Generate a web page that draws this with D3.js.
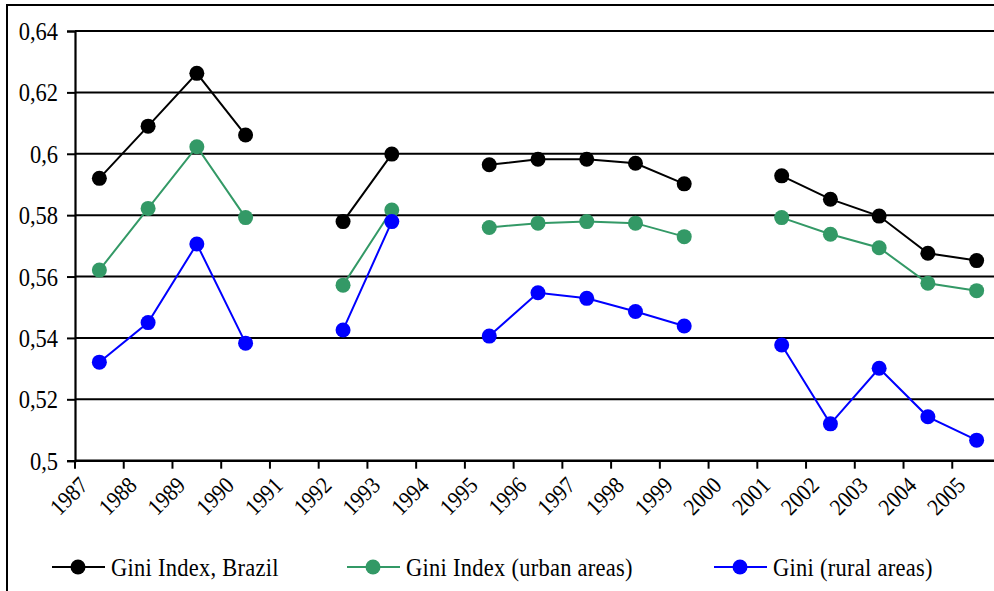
<!DOCTYPE html>
<html>
<head>
<meta charset="utf-8">
<script src="https://cdn.jsdelivr.net/npm/d3@7"></script>
<style>
  html, body { margin: 0; padding: 0; background: #fff; }
  svg { display: block; }
  text { font-family: "Liberation Serif", "Times New Roman", serif; fill: #000; }
</style>
</head>
<body>
<svg id="chart" width="994" height="591"></svg>
<script>
// Gini coefficients by year; null where no survey was taken
const years = ["1987","1988","1989","1990","1991","1992","1993","1994","1995","1996",
               "1997","1998","1999","2000","2001","2002","2003","2004","2005"];
const giniBrazil = [0.592,0.609,0.6262,0.6061,null,0.5779,0.5999,null,0.5964,0.5982,
                    0.5982,0.5969,0.5902,null,0.5928,0.5852,0.5797,0.5676,0.5652];
const giniUrban  = [0.5621,0.5822,0.6023,0.5792,null,0.5572,0.5817,null,0.5760,0.5774,
                    0.5779,0.5774,0.5730,null,0.5792,0.5738,0.5694,0.5578,0.5554];
const giniRural  = [0.5321,0.545,0.5706,0.5383,null,0.5426,0.5779,null,0.5406,0.5547,
                    0.5529,0.5486,0.5439,null,0.5377,0.5120,0.5301,0.5143,0.5067];
const yTicks = [0.5,0.52,0.54,0.56,0.58,0.6,0.62,0.64];
const yTickLabels = ["0,5","0,52","0,54","0,56","0,58","0,6","0,62","0,64"];
const seriesNames = ["Gini Index, Brazil","Gini Index (urban areas)","Gini (rural areas)"];
const seriesColors = ["#000000","#339966","#0000ff"];

const series = [giniBrazil, giniUrban, giniRural].map((vals, i) => ({
  name: seriesNames[i], color: seriesColors[i], values: vals
}));

const svg = d3.select("#chart");
const plot = {left: 75, right: 1001, top: 31, bottom: 460.7};
const fontSize = 25;
const condense = 0.9; // narrow serif face

// Outer frame
svg.append("rect")
  .attr("x", 7).attr("y", 5).attr("width", 1000).attr("height", 600)
  .attr("fill", "none").attr("stroke", "#000").attr("stroke-width", 2);

const x = d3.scaleBand().domain(years).range([plot.left, plot.right]).padding(0);
const y = d3.scaleLinear().domain([0.5, 0.64]).range([plot.bottom, plot.top]);

// Horizontal gridlines
svg.append("g").selectAll("line").data(yTicks.slice(1)).join("line")
  .attr("x1", plot.left).attr("x2", plot.right)
  .attr("y1", d => y(d)).attr("y2", d => y(d))
  .attr("stroke", "#000").attr("stroke-width", 2);

// Y axis
const yAxis = d3.axisLeft(y).tickValues(yTicks).tickSize(8).tickPadding(9)
  .tickFormat((d, i) => yTickLabels[i]);
const gy = svg.append("g").attr("transform", `translate(${plot.left},0)`).call(yAxis);
gy.attr("font-family", null).attr("font-size", null);
gy.select(".domain").attr("stroke", "#000").attr("stroke-width", 2.2);
gy.selectAll(".tick line").attr("stroke", "#000").attr("stroke-width", 2);
gy.selectAll(".tick text")
  .attr("font-size", fontSize)
  .attr("dy", "0.34em")
  .each(function() {
    const t = d3.select(this);
    const xx = +t.attr("x");
    t.attr("x", null).attr("transform", `translate(${xx},0) scale(${condense},1)`);
  });

// X axis: ticks sit on category boundaries
const gx = svg.append("g").attr("transform", `translate(0,${plot.bottom})`);
gx.append("line").attr("x1", plot.left).attr("x2", plot.right)
  .attr("stroke", "#000").attr("stroke-width", 2.4);
gx.selectAll("line.tk").data(years).join("line").attr("class", "tk")
  .attr("x1", d => x(d)).attr("x2", d => x(d))
  .attr("y1", 0).attr("y2", 8)
  .attr("stroke", "#000").attr("stroke-width", 2);
gx.selectAll("text").data(years).join("text")
  .attr("text-anchor", "end")
  .attr("font-size", 23.5)
  .attr("transform", d => `translate(${x(d) + x.bandwidth() / 2 - 10},26) rotate(-45) scale(${condense},1)`)
  .text(d => d);

// Series lines (gaps at missing years) and markers
const line = d3.line()
  .defined(d => d.v != null)
  .x(d => x(d.year) + x.bandwidth() / 2)
  .y(d => y(d.v));

series.forEach(s => {
  const pts = years.map((yr, i) => ({year: yr, v: s.values[i]}));
  svg.append("path").datum(pts)
    .attr("fill", "none").attr("stroke", s.color).attr("stroke-width", 2)
    .attr("d", line);
  svg.append("g").selectAll("circle").data(pts.filter(d => d.v != null)).join("circle")
    .attr("cx", d => x(d.year) + x.bandwidth() / 2)
    .attr("cy", d => y(d.v))
    .attr("r", 7.5)
    .attr("fill", s.color);
});

// Legend
const legendX = [52, 347, 714];
const legendY = 567;
const lg = svg.append("g").selectAll("g").data(series).join("g")
  .attr("transform", (d, i) => `translate(${legendX[i]},${legendY})`);
lg.append("line").attr("x1", 0).attr("x2", 53)
  .attr("stroke", d => d.color).attr("stroke-width", 2);
lg.append("circle").attr("cx", 26).attr("r", 7.5).attr("fill", d => d.color);
lg.append("text")
  .attr("font-size", fontSize)
  .attr("dy", "0.34em")
  .attr("letter-spacing", 0.3)
  .attr("transform", `translate(59,0) scale(${condense},1)`)
  .text(d => d.name);
</script>
</body>
</html>
